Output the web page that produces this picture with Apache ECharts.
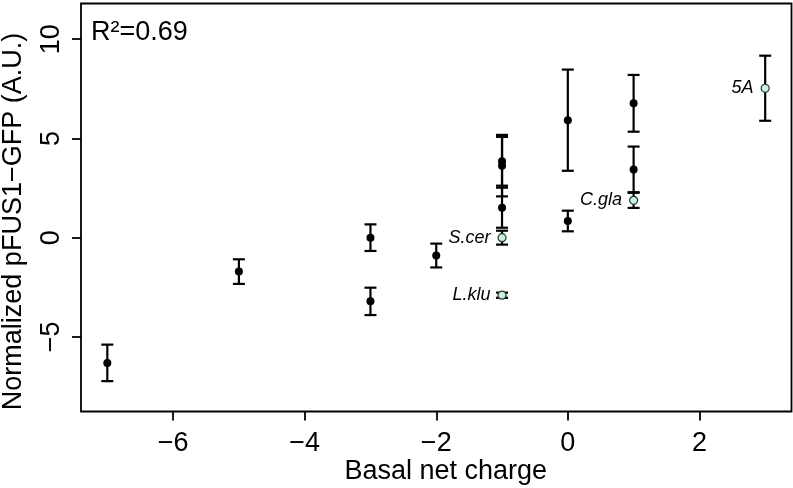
<!DOCTYPE html>
<html>
<head>
<meta charset="utf-8">
<script src="https://cdn.jsdelivr.net/npm/echarts@6/dist/echarts.min.js"></script>
<style>
html,body{margin:0;padding:0;background:#fff;}
#chart{width:793px;height:488px;}
</style>
</head>
<body>
<div id="chart"></div>
<script>
// Filled points (strains): basal net charge, normalized signal, error half-width
const chargeFilled = [-7, -5, -3, -3, -2, -1, -1, -1, 0, 0, 1, 1];
const valueFilled  = [-6.31, -1.71, 0.0, -3.21, -0.90, 3.85, 3.63, 1.51, 5.92, 0.84, 6.77, 3.44];
const errFilled    = [0.92, 0.62, 0.67, 0.69, 0.60, 1.23, 1.55, 1.01, 2.55, 0.52, 1.43, 1.15];

// Reference species (open points)
const refNames  = ['S.cer', 'L.klu', 'C.gla', '5A'];
const chargeRef = [-1, -1, 1, 3];
const valueRef  = [0.0, -2.9, 1.88, 7.53];
const errRef    = [0.35, 0.13, 0.38, 1.64];

const xTicks = [-6, -4, -2, 0, 2];
const yTicks = [-5, 0, 5, 10];
const r2Text = 'R²=0.69';

const FONT = '"Liberation Sans", Arial, sans-serif';
const minus = v => String(v).replace('-', '\u2212');

function errRender(params, api) {
  const x = api.value(0), y = api.value(1), e = api.value(2);
  const top = api.coord([x, y + e]);
  const bot = api.coord([x, y - e]);
  const hw = 6;
  const st = { stroke: '#000', lineWidth: 2.2 };
  return {
    type: 'group',
    children: [
      { type: 'line', shape: { x1: top[0], y1: top[1], x2: bot[0], y2: bot[1] }, style: st },
      { type: 'line', shape: { x1: top[0] - hw, y1: top[1], x2: top[0] + hw, y2: top[1] }, style: st },
      { type: 'line', shape: { x1: bot[0] - hw, y1: bot[1], x2: bot[0] + hw, y2: bot[1] }, style: st }
    ]
  };
}

const filledData = chargeFilled.map((c, i) => [c, valueFilled[i], errFilled[i]]);
const refData = chargeRef.map((c, i) => ({ name: refNames[i], value: [c, valueRef[i], errRef[i]] }));

const chart = echarts.init(document.getElementById('chart'), null, { renderer: 'canvas' });
chart.setOption({
  animation: false,
  backgroundColor: '#fff',
  textStyle: { fontFamily: FONT },
  grid: {
    left: 81, right: 1.5, top: 3.5, bottom: 76.5,
    outerBoundsMode: 'none', containLabel: false,
    show: true, borderColor: '#000', borderWidth: 1.8, backgroundColor: 'transparent'
  },
  xAxis: {
    type: 'value', min: -7.4, max: 3.4,
    splitLine: { show: false },
    axisLine: { show: false, onZero: false },
    axisTick: { show: true, customValues: xTicks, length: 9, lineStyle: { color: '#000', width: 1.8 } },
    axisLabel: { customValues: xTicks, formatter: minus, fontSize: 27, color: '#000', margin: 19, fontFamily: FONT },
    name: 'Basal net charge', nameLocation: 'middle', nameGap: 47, nameMoveOverlap: false,
    nameTextStyle: { fontSize: 27, color: '#000', fontFamily: FONT, padding: [0, 0, 0, 19] }
  },
  yAxis: {
    type: 'value', min: -8.76, max: 11.8,
    splitLine: { show: false },
    axisLine: { show: false, onZero: false },
    axisTick: { show: true, customValues: yTicks, length: 9, lineStyle: { color: '#000', width: 1.8 } },
    axisLabel: { customValues: yTicks, formatter: minus, rotate: 90, fontSize: 27, color: '#000', margin: 16, fontFamily: FONT },
    name: 'Normalized pFUS1\u2212GFP (A.U.)', nameLocation: 'middle', nameGap: 54,
    nameTextStyle: { fontSize: 27, color: '#000', fontFamily: FONT, padding: [0, 28, 0, 0] }
  },
  title: {
    text: r2Text, left: 86, top: 14,
    textStyle: { fontSize: 27, fontWeight: 'normal', color: '#000', fontFamily: FONT }
  },
  series: [
    { type: 'custom', renderItem: errRender, data: filledData, z: 2, encode: { x: 0, y: 1 } },
    { type: 'custom', renderItem: errRender, data: refData, z: 2, encode: { x: 0, y: 1 } },
    {
      type: 'scatter', data: filledData, symbol: 'circle', symbolSize: 8, z: 3,
      itemStyle: { color: '#000', opacity: 1 }
    },
    {
      type: 'scatter', data: refData, symbol: 'circle', symbolSize: 8, z: 4,
      itemStyle: { color: '#cdf2dc', borderColor: '#1d3b2c', borderWidth: 1.2, opacity: 1 },
      label: {
        show: true, position: 'left', distance: 7, formatter: '{b}',
        fontSize: 18, fontStyle: 'italic', color: '#000', fontFamily: FONT
      }
    }
  ]
});
</script>
</body>
</html>
